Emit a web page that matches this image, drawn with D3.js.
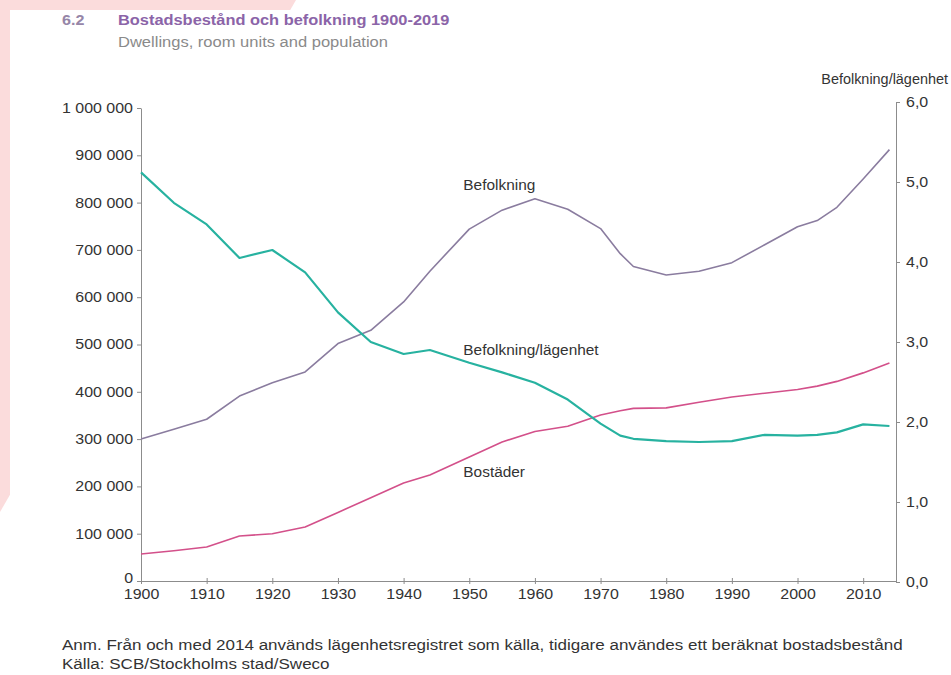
<!DOCTYPE html>
<html>
<head>
<meta charset="utf-8">
<script src="https://cdn.jsdelivr.net/npm/d3@7"></script>
<style>
  body { margin: 0; background: #fff; }
  svg { display: block; font-family: "Liberation Sans", Arial, sans-serif; }
</style>
</head>
<body>
<div id="container"></div>
<script>
const years = [1900, 1905, 1910, 1915, 1920, 1925, 1930, 1935, 1940, 1944, 1950, 1955, 1960,
  1965, 1970, 1973, 1975, 1980, 1985, 1990, 1995, 2000, 2003, 2006, 2010, 2014];
// Befolkning (left axis)
const population = [300000, 321000, 342000, 391000, 419000, 442000, 502000, 530000, 590000,
  655000, 744000, 784000, 808000, 786000, 745000, 692000, 665000, 647000, 655000, 673000,
  711000, 749000, 762000, 790000, 850000, 912000];
// Bostäder (left axis)
const dwellings = [57000, 64000, 72000, 95000, 100000, 114000, 145000, 176000, 207000, 224000,
  262000, 294000, 316000, 327000, 351000, 360000, 365000, 366000, 378000, 389000, 397000,
  405000, 412000, 422000, 440000, 461000];
// Befolkning/lägenhet (right axis)
const perDwelling = [5.12, 4.74, 4.47, 4.05, 4.15, 3.87, 3.37, 3.0, 2.85, 2.9, 2.74, 2.62, 2.49,
  2.28, 1.98, 1.83, 1.79, 1.76, 1.75, 1.76, 1.84, 1.83, 1.84, 1.87, 1.97, 1.95];

const xTicks = [1900, 1910, 1920, 1930, 1940, 1950, 1960, 1970, 1980, 1990, 2000, 2010];
const leftTicks = [0, 100000, 200000, 300000, 400000, 500000, 600000, 700000, 800000, 900000, 1000000];
const rightTicks = [0, 1, 2, 3, 4, 5, 6];

// series labels, placed on the right-axis scale
const labels = [
  { text: "Befolkning", year: 1949.1, value: 4.9 },
  { text: "Befolkning/lägenhet", year: 1949.1, value: 2.84 },
  { text: "Bostäder", year: 1949.1, value: 1.31 }
];

const W = 951, H = 675;
const textCol = "#333";

const svg = d3.select("#container").append("svg")
  .attr("width", W).attr("height", H);

// the source scan is a little wide, so texts get stretched sideways
const stretch = (sel, k) =>
  sel.each(function () {
    const len = this.getComputedTextLength();
    d3.select(this).attr("textLength", len * k).attr("lengthAdjust", "spacingAndGlyphs");
  });

// pink corner behind the white page
svg.append("path")
  .attr("d", "M0,0L296,0L0,512Z")
  .attr("fill", "#fbdcdc");
svg.append("rect")
  .attr("x", 10).attr("y", 10).attr("width", W - 10).attr("height", H - 10)
  .attr("fill", "#fff");

// titles
svg.append("text").attr("x", 62).attr("y", 25)
  .attr("font-size", 14).attr("font-weight", "bold").attr("fill", "#9686a8")
  .text("6.2").call(stretch, 1.15);
svg.append("text").attr("x", 118).attr("y", 25)
  .attr("font-size", 14).attr("font-weight", "bold").attr("fill", "#8b64a8")
  .text("Bostadsbestånd och befolkning 1900-2019").call(stretch, 1.17);
svg.append("text").attr("x", 118).attr("y", 47)
  .attr("font-size", 14).attr("fill", "#8a8a8a")
  .text("Dwellings, room units and population").call(stretch, 1.18);

const x = d3.scaleLinear().domain([1900, 2015]).range([141, 896]);
const yL = d3.scaleLinear().domain([0, 1000000]).range([581, 108]);
const yR = d3.scaleLinear().domain([0, 6]).range([582, 102]);

const fmtL = (d) => d3.format(",")(d).replace(/,/g, " ");
const fmtR = (d) => d3.format(".1f")(d).replace(".", ",");

const styleAxis = (g) => {
  g.selectAll("path, line").attr("stroke", "#8c8c8c");
  g.selectAll("text").attr("fill", textCol).attr("font-size", 14)
    .attr("font-family", "'Liberation Sans', Arial, sans-serif")
    .call(stretch, 1.14);
};

const leftAxis = svg.append("g")
  .attr("transform", `translate(${x(1900)},0)`)
  .call(d3.axisLeft(yL).tickValues(leftTicks).tickFormat(fmtL).tickSizeInner(4).tickSizeOuter(0).tickPadding(4))
  .call(styleAxis);
// lift the zero a touch so it clears the year labels
leftAxis.selectAll(".tick text").filter((d) => d === 0).attr("y", -3);

svg.append("g")
  .attr("transform", `translate(${x(2015)},0)`)
  .call(d3.axisRight(yR).tickValues(rightTicks).tickFormat(fmtR).tickSizeInner(4).tickSizeOuter(0).tickPadding(6))
  .call(styleAxis);

const xAxis = svg.append("g")
  .attr("transform", `translate(0,${yL(0)})`)
  .call(d3.axisBottom(x).tickValues(xTicks).tickFormat(d3.format("d")).tickSizeInner(3).tickSizeOuter(0).tickPadding(5))
  .call(styleAxis);
xAxis.selectAll(".tick line").attr("y1", -3);

svg.append("text")
  .attr("x", 948).attr("y", 84).attr("text-anchor", "end")
  .attr("font-size", 14).attr("fill", textCol)
  .text("Befolkning/lägenhet").call(stretch, 1.03);

// lines
const lineL = d3.line().x((d, i) => x(years[i])).y((d) => yL(d));
const lineR = d3.line().x((d, i) => x(years[i])).y((d) => yR(d));

svg.append("path").datum(dwellings)
  .attr("d", lineL).attr("fill", "none")
  .attr("stroke", "#d3508a").attr("stroke-width", 1.6).attr("stroke-linejoin", "round");
svg.append("path").datum(population)
  .attr("d", lineL).attr("fill", "none")
  .attr("stroke", "#8a7c9f").attr("stroke-width", 1.6).attr("stroke-linejoin", "round");
svg.append("path").datum(perDwelling)
  .attr("d", lineR).attr("fill", "none")
  .attr("stroke", "#27b2a0").attr("stroke-width", 2.2).attr("stroke-linejoin", "round");

svg.selectAll(".lbl").data(labels).join("text")
  .attr("class", "lbl")
  .attr("x", (d) => x(d.year)).attr("y", (d) => yR(d.value))
  .attr("font-size", 14).attr("fill", textCol)
  .text((d) => d.text)
  .call(stretch, 1.1);

// notes
svg.append("text").attr("x", 62).attr("y", 650)
  .attr("font-size", 14).attr("fill", textCol)
  .text("Anm. Från och med 2014 används lägenhetsregistret som källa, tidigare användes ett beräknat bostadsbestånd")
  .call(stretch, 1.215);
svg.append("text").attr("x", 62).attr("y", 669)
  .attr("font-size", 14).attr("fill", textCol)
  .text("Källa: SCB/Stockholms stad/Sweco")
  .call(stretch, 1.215);
</script>
</body>
</html>
